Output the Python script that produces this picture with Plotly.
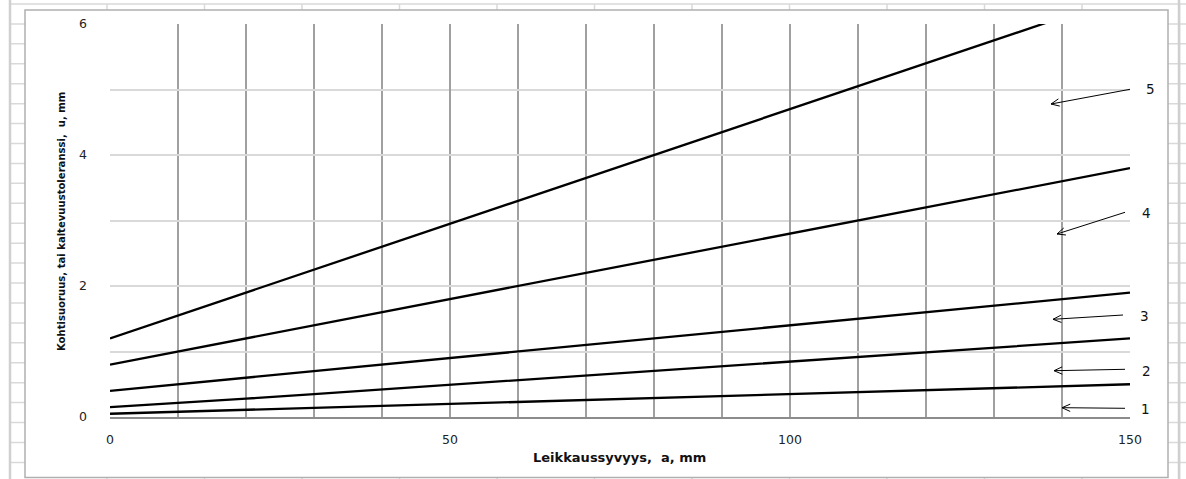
import numpy as np
import plotly.graph_objects as go

# ---- data ----
depth = [0, 10, 20, 30, 40, 50, 60, 70, 80, 90, 100, 110, 120, 130, 140, 150]
curve1 = [0.05, 0.08, 0.11, 0.13, 0.16, 0.19, 0.22, 0.25, 0.29, 0.32, 0.35, 0.38, 0.41, 0.44, 0.47, 0.50]
curve2 = [0.15, 0.21, 0.28, 0.35, 0.42, 0.49, 0.56, 0.63, 0.70, 0.77, 0.85, 0.92, 0.99, 1.06, 1.13, 1.20]
curve3 = [0.40, 0.50, 0.60, 0.70, 0.80, 0.90, 1.00, 1.10, 1.20, 1.30, 1.40, 1.50, 1.60, 1.70, 1.80, 1.90]
curve4 = [0.80, 1.00, 1.20, 1.40, 1.60, 1.80, 2.00, 2.20, 2.40, 2.60, 2.80, 3.00, 3.20, 3.40, 3.60, 3.80]
curve5 = [1.20, 1.55, 1.90, 2.25, 2.60, 2.95, 3.30, 3.65, 4.00, 4.35, 4.70, 5.05, 5.40, 5.75, 6.10, 6.45]
series = [curve1, curve2, curve3, curve4, curve5]
curve_labels = ["1", "2", "3", "4", "5"]
x_ticks = [0, 50, 100, 150]
y_ticks = [0, 2, 4, 6]
x_title = "Leikkaussyvyys,  a, mm"
y_title = "Kohtisuoruus, tai kaltevuustoleranssi,  u, mm"

# ---- layout geometry (pixels) ----
W, H = 1186, 479
PL, PR, PT, PB = 110, 1130, 24, 417  # plot area


def X(px):
    return (px - PL) / (PR - PL)


def Y(py):
    return (PB - py) / (PB - PT)


fig = go.Figure()
for s in series:
    fig.add_trace(go.Scatter(x=depth, y=s, mode="lines",
                             line=dict(color="black", width=2.3),
                             showlegend=False, hoverinfo="skip"))

shapes = []
cell_col = "#d9d9d9"
# spreadsheet cell lines (background)
for k in range(24):
    yy = 4 + 19.93 * k
    shapes.append(dict(type="line", xref="paper", yref="paper", layer="below",
                       x0=X(10), x1=X(W), y0=Y(yy), y1=Y(yy),
                       line=dict(color=cell_col, width=1.5)))
shapes.append(dict(type="line", xref="paper", yref="paper", layer="below",
                   x0=X(10), x1=X(10), y0=Y(0), y1=Y(H),
                   line=dict(color="#d0d0d0", width=2.5)))
for k in range(12):
    xx = 107 + 97.5 * k
    shapes.append(dict(type="line", xref="paper", yref="paper", layer="below",
                       x0=X(xx), x1=X(xx), y0=Y(4), y1=Y(H),
                       line=dict(color=cell_col, width=1.5)))
shapes.append(dict(type="line", xref="paper", yref="paper", layer="below",
                   x0=X(1179), x1=X(1179), y0=Y(0), y1=Y(H),
                   line=dict(color="#cfcfcf", width=2.5)))
# chart area
shapes.append(dict(type="rect", xref="paper", yref="paper", layer="below",
                   x0=X(25), x1=X(1168), y0=Y(10), y1=Y(477.5),
                   fillcolor="white", line=dict(color="#b0b0b0", width=1.5)))

# arrows (tail -> head, pixels)
arrows = [
    ((1125, 408.3), (1062, 407.7)),
    ((1125, 369.3), (1054, 370.7)),
    ((1123, 315.0), (1053, 319.3)),
    ((1125, 212.3), (1057, 234.0)),
    ((1130, 89.3), (1051, 104.0)),
]
label_pos = [(1145, 409), (1146, 371), (1144, 316), (1146, 213), (1150, 89)]

for (tx, ty), (hx, hy) in arrows:
    shapes.append(dict(type="line", xref="paper", yref="paper",
                       x0=X(tx), y0=Y(ty), x1=X(hx), y1=Y(hy),
                       line=dict(color="black", width=1)))
    u = np.array([tx - hx, ty - hy], dtype=float)
    u /= np.linalg.norm(u)
    for ang in (np.radians(24), -np.radians(24)):
        r = np.array([u[0] * np.cos(ang) - u[1] * np.sin(ang),
                      u[0] * np.sin(ang) + u[1] * np.cos(ang)])
        ax, ay = hx + 9 * r[0], hy + 9 * r[1]
        shapes.append(dict(type="line", xref="paper", yref="paper",
                           x0=X(hx), y0=Y(hy), x1=X(ax), y1=Y(ay),
                           line=dict(color="black", width=1)))

annotations = []
for lab, (lx, ly) in zip(curve_labels, label_pos):
    annotations.append(dict(text=lab, xref="paper", yref="paper", x=X(lx), y=Y(ly),
                            showarrow=False, xanchor="center", yanchor="middle",
                            font=dict(family="DejaVu Sans", size=13.5, color="#111")))
annotations.append(dict(text="<b>" + x_title + "</b>", xref="paper", yref="paper",
                        x=X(619), y=Y(457), showarrow=False,
                        xanchor="center", yanchor="middle",
                        font=dict(family="DejaVu Sans", size=13, color="#111")))
annotations.append(dict(text="<b>" + y_title + "</b>", xref="paper", yref="paper",
                        x=X(61.5), y=Y(221.5), showarrow=False, textangle=-90,
                        xanchor="center", yanchor="middle",
                        font=dict(family="Liberation Sans Narrow, DejaVu Sans Condensed, sans-serif",
                                  size=11.2, color="#111")))

fig.update_layout(
    width=W, height=H, autosize=False,
    margin=dict(l=PL, r=W - PR, t=PT, b=H - PB, pad=0),
    paper_bgcolor="white", plot_bgcolor="white",
    shapes=shapes, annotations=annotations,
    font=dict(family="DejaVu Sans", size=12, color="#222"),
)
fig.update_xaxes(range=[0, 150], tickvals=x_ticks, ticks="", showgrid=True,
                 gridcolor="#a0a0a0", gridwidth=1.5, zeroline=False,
                 showline=True, linecolor="#8c8c8c", linewidth=1.5,
                 ticklabelstandoff=10,
                 minor=dict(tickvals=depth, showgrid=True, gridcolor="#a0a0a0", gridwidth=1.5),
                 tickfont=dict(family="DejaVu Sans", size=12.5, color="#222"))
fig.update_yaxes(range=[0, 6], tickvals=y_ticks, ticks="", showgrid=True,
                 gridcolor="#d9d9d9", gridwidth=1.5, zeroline=False,
                 showline=False, ticklabelstandoff=22,
                 minor=dict(dtick=1, showgrid=True, gridcolor="#d9d9d9", gridwidth=1.5),
                 tickfont=dict(family="DejaVu Sans", size=12.5, color="#222"))

fig.write_html("out.html", config={"displayModeBar": False},
               post_script="document.body.style.margin='0px';document.body.style.overflow='hidden';")
